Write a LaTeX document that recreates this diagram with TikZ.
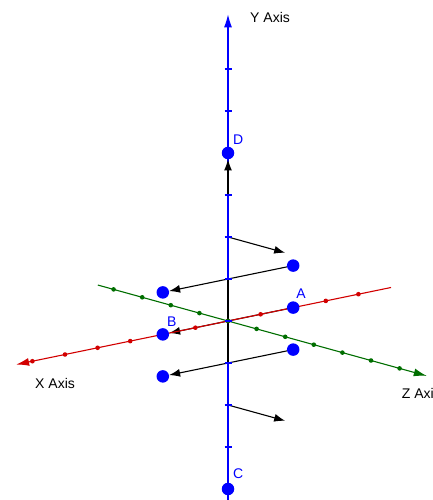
\documentclass[tikz,border=0pt]{standalone}
\usepackage{fontspec}
\setmainfont{Liberation Sans}
\usetikzlibrary{arrows.meta,backgrounds}
\definecolor{axred}{RGB}{210,0,0}
\definecolor{axgreen}{RGB}{0,110,0}
\definecolor{axblue}{RGB}{0,0,255}

\begin{document}
\begin{tikzpicture}[x={(-32.6pt,-6.7pt)}, y={(0pt,42pt)}, z={(28.6pt,-7.9pt)},
  font=\fontsize{14}{16}\selectfont,
  axisline/.style={line width=1.1pt, -{Latex[length=13pt,width=8pt]}},
  vec/.style={line width=1.1pt, -{Latex[length=11pt,width=8pt]}},
  gpoint/.style={circle, fill=axblue, inner sep=0pt, minimum size=12.5pt},
  lbl/.style={inner sep=0pt}]
\useasboundingbox (-228pt,321pt) rectangle (205pt,-179pt);
\node[gpoint] (A) at (-2,0,0) {};
\node[gpoint] (B) at (2,0,0) {};
\node[gpoint] (C) at (0,-4,0) {};
\node[gpoint] (D) at (0,4,0) {};
\node[gpoint] (A1) at (-2,1,0) {};
\node[gpoint] (B1) at (2,1,0) {};
\node[gpoint] (A2) at (-2,-1,0) {};
\node[gpoint] (B2) at (2,-1,0) {};
\foreach \j in {-4,...,6} \coordinate (y\j) at (0,\j,0);
\coordinate (e1) at (0,2,2); \coordinate (e2) at (0,-2,2);
\begin{scope}[on background layer]
\draw[vec] (A)--(B);
\draw[axisline, axblue] (0,-4.4,0)--(0,7.3,0);
\draw[line width=1.1pt] (y-1)--(y1);
\draw[axisline, axred] (-5,0,0)--(6.5,0,0);
\draw[axisline, axgreen] (0,0,-4.55)--(0,0,6.95);
\foreach \i in {-4,...,6} \fill[axred] (\i,0,0) circle (2.3pt);
\foreach \i in {-4,...,6} \fill[axgreen] (0,0,\i) circle (2.3pt);
\end{scope}
\draw[vec] (y3)--(D);
\draw[vec] (A1)--(B1); \draw[vec] (A2)--(B2);
\draw[vec] (y2)--(e1); \draw[vec] (y-2)--(e2);
\foreach \j in {-3,-2,-1,0,1,2,3,5,6} \draw[axblue, line width=2pt] (y\j) ++(-3.5pt,0)--++(7pt,0);
\node[lbl, anchor=west] (ylab) at (22pt,303pt) {Y Axis};
\node[lbl, anchor=west] (xlab) at (-193pt,-62pt) {X Axis};
\node[lbl, anchor=west] (zlab) at (173.7pt,-72.3pt) {Z Axi};
\node[lbl, axblue] (labA) at (73pt,27.7pt) {A};
\node[lbl, axblue] (labB) at (-56.3pt,-0.7pt) {B};
\node[lbl, axblue] (labC) at (10.3pt,-152.3pt) {C};
\node[lbl, axblue] (labD) at (10.3pt,181pt) {D};
\end{tikzpicture}
\end{document}
